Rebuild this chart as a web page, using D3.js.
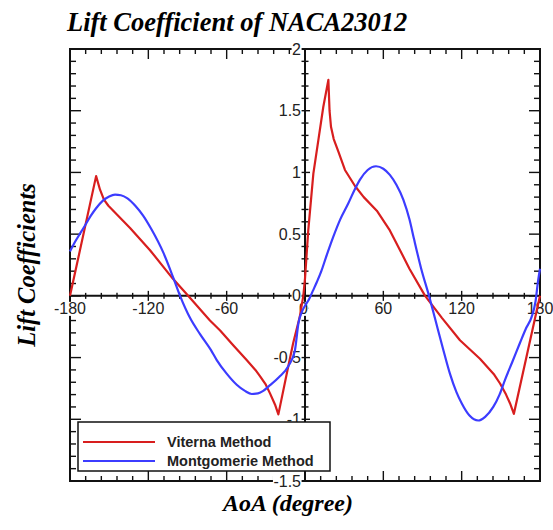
<!DOCTYPE html>
<html>
<head>
<meta charset="utf-8">
<script src="https://cdn.jsdelivr.net/npm/d3@7"></script>
<style>
  body { margin: 0; background: #fff; }
  svg { display: block; }
</style>
</head>
<body>
<div id="chart"></div>
<script>
// angle of attack (deg) and lift coefficient
var viternaAoA = [-180, -160, -157, -154, -150.6, -145, -134, -118.7, -101.3, -89.5, -72.8, -65, -55, -44.7, -38, -34.5, -30, -26.8, -23, -20.4,
    -12.8, -9, -4, -1.3, 0, 2.5, 6.4, 10.2, 14, 17.9, 18.8, 19.9, 22, 25.5, 30.6, 38.3, 45, 55, 65, 72.8, 80, 92, 105, 118.7, 134, 145, 149.4, 154, 157, 160, 180];
var viternaCl = [0, 0.97, 0.86, 0.78, 0.73, 0.67, 0.55, 0.37, 0.14, 0, -0.2, -0.28, -0.4, -0.52, -0.6, -0.65, -0.72, -0.79, -0.88, -0.96,
    -0.57, -0.38, -0.17, 0, 0.14, 0.53, 0.99, 1.26, 1.53, 1.75, 1.5, 1.37, 1.27, 1.17, 1.02, 0.89, 0.8, 0.69, 0.53, 0.37, 0.22, 0, -0.18, -0.36, -0.51, -0.64, -0.71, -0.8, -0.87, -0.956, 0];

var montAoA = [-180, -176, -172, -168.5, -164, -160, -155, -150, -145.5, -141, -136, -130, -124, -117.4, -108.5, -101, -95.7, -88, -80.4, -72, -67.6, -60, -52.3, -46, -40.8, -36, -32, -28, -20, -12.8,
    -7.7, -5, -2, 0, 3, 6, 9, 12.5, 16, 21.7, 27, 33.2, 38, 42, 48, 54.4, 60, 65, 70, 75.3, 80, 83.5, 89, 95, 100, 105.5, 111, 116, 120, 126, 132.7, 138, 144.2, 149, 153.2, 159, 164.7, 169, 173.6, 176.5, 178.5, 180];
var montCl = [0.36, 0.44, 0.51, 0.57, 0.65, 0.71, 0.77, 0.805, 0.82, 0.815, 0.79, 0.73, 0.65, 0.535, 0.35, 0.15, 0, -0.18, -0.31, -0.44, -0.52, -0.63, -0.72, -0.77, -0.795, -0.79, -0.77, -0.735, -0.66, -0.57,
    -0.44, -0.22, -0.12, -0.08, -0.03, 0.04, 0.11, 0.2, 0.31, 0.48, 0.62, 0.75, 0.86, 0.94, 1.02, 1.05, 1.03, 0.98, 0.9, 0.78, 0.62, 0.46, 0.22, 0, -0.2, -0.42, -0.63, -0.78, -0.87, -0.97, -1.01, -0.98, -0.9, -0.8, -0.68, -0.53, -0.38, -0.27, -0.17, -0.05, 0.12, 0.22];

var xMajor = [-180, -120, -60, 0, 60, 120, 180];
var yMajor = [-1.5, -1, -0.5, 0, 0.5, 1, 1.5, 2];
var seriesNames = ["Viterna Method", "Montgomerie Method"];
var seriesColors = ["#d81e1e", "#3c3cff"];

var W = 553, H = 530;
var frame = { left: 70, right: 540, top: 49, bottom: 481 };

var svg = d3.select("#chart").append("svg").attr("width", W).attr("height", H);

var x = d3.scaleLinear().domain([-180, 180]).range([frame.left, frame.right]);
var y = d3.scaleLinear().domain([-1.5, 2]).range([frame.bottom, frame.top]);

var xMinor = d3.range(-180, 180.01, 12);
var yMinor = d3.range(-15, 20.01, 1).map(d => d / 10);
var isMajX = d => xMajor.indexOf(d) >= 0;
var isMajY = d => Math.abs(d * 2 - Math.round(d * 2)) < 1e-6;

var ticks = svg.append("g").attr("stroke", "#111").attr("stroke-width", 1.4);

// frame ticks pointing inward, center axis ticks crossing
xMinor.forEach(d => {
    var len = isMajX(d) ? 10 : 5;
    ticks.append("line").attr("x1", x(d)).attr("x2", x(d)).attr("y1", frame.top).attr("y2", frame.top + len);
    ticks.append("line").attr("x1", x(d)).attr("x2", x(d)).attr("y1", frame.bottom).attr("y2", frame.bottom - len);
    var l2 = isMajX(d) ? 5 : 3;
    ticks.append("line").attr("x1", x(d)).attr("x2", x(d)).attr("y1", y(0) - l2).attr("y2", y(0) + l2);
});
yMinor.forEach(d => {
    var len = isMajY(d) ? 11 : 6;
    ticks.append("line").attr("y1", y(d)).attr("y2", y(d)).attr("x1", frame.left).attr("x2", frame.left + len);
    ticks.append("line").attr("y1", y(d)).attr("y2", y(d)).attr("x1", frame.right).attr("x2", frame.right - len);
    var l2 = isMajY(d) ? 5 : 3.5;
    ticks.append("line").attr("y1", y(d)).attr("y2", y(d)).attr("x1", x(0) - l2).attr("x2", x(0) + l2);
});

// frame and center axes
svg.append("rect").attr("x", frame.left).attr("y", frame.top).attr("width", frame.right - frame.left).attr("height", frame.bottom - frame.top)
    .attr("fill", "none").attr("stroke", "#111").attr("stroke-width", 2);
svg.append("line").attr("x1", frame.left).attr("x2", frame.right).attr("y1", y(0)).attr("y2", y(0)).attr("stroke", "#111").attr("stroke-width", 2);
svg.append("line").attr("x1", x(0)).attr("x2", x(0)).attr("y1", frame.top).attr("y2", frame.bottom).attr("stroke", "#111").attr("stroke-width", 2);

// tick labels, on white boxes like the original
var lab = svg.append("g").attr("font-family", "'Liberation Sans', Arial, Helvetica, sans-serif")
    .attr("font-size", 16).attr("fill", "#222");
function boxedLabel(px, py, anchor, txt) {
    var g = lab.append("g");
    var t = g.append("text").attr("x", px).attr("y", py).attr("text-anchor", anchor).text(txt);
    var b = t.node().getBBox();
    g.insert("rect", "text").attr("x", b.x - 0.5).attr("y", b.y + 2).attr("width", b.width + 1).attr("height", b.height - 3)
        .attr("fill", "#fff");
}
xMajor.forEach(d => boxedLabel(x(d) - (d === 0 ? 1.5 : 0), y(0) + 18, "middle", d));
yMajor.forEach(d => boxedLabel(x(0) - 4, y(d) + 5.5, "end", d));

// curves
var series = [
    viternaAoA.map((a, i) => [a, viternaCl[i]]),
    montAoA.map((a, i) => [a, montCl[i]])
];
var curves = [d3.curveLinear, d3.curveMonotoneX];
series.forEach((s, i) => {
    var line = d3.line().x(d => x(d[0])).y(d => y(d[1])).curve(curves[i]);
    svg.append("path").datum(s).attr("d", line).attr("fill", "none")
        .attr("stroke", seriesColors[i]).attr("stroke-width", 2.2).attr("stroke-linejoin", "round");
});

// legend
var lg = svg.append("g");
lg.append("rect").attr("x", 78).attr("y", 422).attr("width", 252).attr("height", 49)
    .attr("fill", "#fff").attr("stroke", "#111").attr("stroke-width", 1.5);
seriesNames.forEach((n, i) => {
    var ly = 442 + i * 19;
    lg.append("line").attr("x1", 83).attr("x2", 155).attr("y1", ly).attr("y2", ly)
        .attr("stroke", seriesColors[i]).attr("stroke-width", 2.2);
    lg.append("text").attr("x", 167).attr("y", ly + 5).attr("font-family", "'Liberation Sans', Arial, sans-serif")
        .attr("font-size", 14.5).attr("font-weight", "bold").attr("fill", "#222").text(n);
});

// titles
var serif = "'Liberation Serif', 'Times New Roman', Times, serif";
svg.append("text").attr("x", 67).attr("y", 31).attr("font-family", serif).attr("font-size", 26.5)
    .attr("font-weight", "bold").attr("font-style", "italic").text("Lift Coefficient of NACA23012");
svg.append("text").attr("x", 288).attr("y", 511).attr("text-anchor", "middle").attr("font-family", serif).attr("font-size", 24)
    .attr("font-weight", "bold").attr("font-style", "italic").text("AoA (degree)");
svg.append("text").attr("transform", "translate(35,265) rotate(-90)").attr("text-anchor", "middle").attr("font-family", serif).attr("font-size", 24.5)
    .attr("font-weight", "bold").attr("font-style", "italic").text("Lift Coefficients");
</script>
</body>
</html>
